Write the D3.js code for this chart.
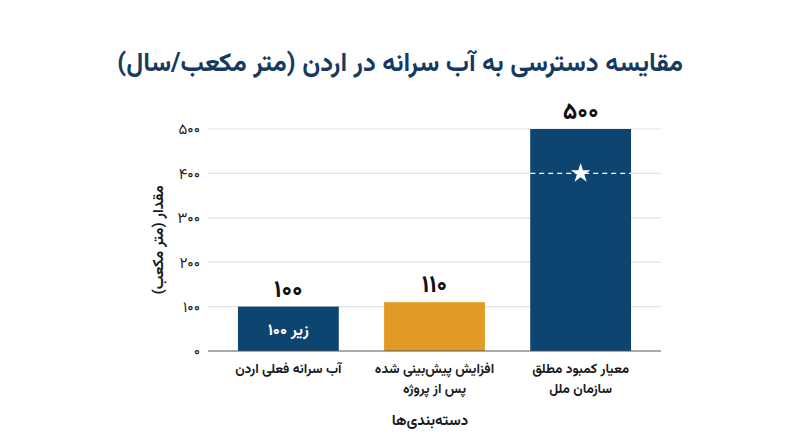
<!DOCTYPE html>
<html>
<head>
<meta charset="utf-8">
<script src="https://cdn.jsdelivr.net/npm/d3@7"></script>
<style>
  body { margin: 0; background: #fff; }
  text { font-family: "Vazirmatn", "Noto Sans Arabic", "DejaVu Sans", sans-serif; }
</style>
</head>
<body>
<div id="chart-area"></div>
<script>
// data
var categories = ['آب سرانه فعلی اردن', 'افزایش پیش‌بینی شده|پس از پروژه', 'معیار کمبود مطلق|سازمان ملل'];
var values = [100, 110, 500];
var valueLabels = ['۱۰۰', '۱۱۰', '۵۰۰'];
var barColors = ['#0e4470', '#e19a24', '#0e4470'];
var yTicks = [0, 100, 200, 300, 400, 500];
var yTickLabels = ['۰', '۱۰۰', '۲۰۰', '۳۰۰', '۴۰۰', '۵۰۰'];
var benchmark = 400;

var margin = { left: 208, right: 139, top: 129, bottom: 96 };
var width = 800 - margin.left - margin.right;
var height = 447 - margin.top - margin.bottom;

var svg = d3.select('#chart-area')
  .append('svg')
    .attr('width', 800)
    .attr('height', 447);

var area = svg.append('g')
  .attr('transform', 'translate(' + margin.left + ', ' + margin.top + ')');

// X Scale
var x = d3.scaleBand()
  .domain(categories)
  .range([0, width])
  .paddingInner(0.31)
  .paddingOuter(0.205);

// Y Scale
var y = d3.scaleLinear()
  .domain([0, 500])
  .range([height, 0]);

// title
svg.append('text')
  .attr('x', 400)
  .attr('y', 71)
  .attr('text-anchor', 'middle')
  .attr('font-size', '25.8px')
  .attr('font-weight', 'bold')
  .attr('fill', '#163a5f')
  .attr('direction', 'rtl')
  .text('مقایسه دسترسی به آب سرانه در اردن (متر مکعب/سال)');

// gridlines
area.append('g')
  .selectAll('line')
  .data(yTicks.filter((d) => d > 0))
  .enter().append('line')
    .attr('x1', 0)
    .attr('x2', width)
    .attr('y1', (d) => y(d))
    .attr('y2', (d) => y(d))
    .attr('stroke', '#e3e3e3')
    .attr('stroke-width', 1.2);

// Y Axis
var yAxisCall = d3.axisLeft(y)
  .tickValues(yTicks)
  .tickSize(0)
  .tickPadding(8)
  .tickFormat((d, i) => yTickLabels[i]);
var yAxisGroup = area.append('g').call(yAxisCall);
yAxisGroup.select('.domain').remove();
yAxisGroup.selectAll('text')
  .attr('font-size', '15px')
  .attr('fill', '#222');

// bars
area.selectAll('rect.bar')
  .data(values)
  .enter().append('rect')
    .attr('class', 'bar')
    .attr('x', (d, i) => x(categories[i]))
    .attr('y', (d) => y(d))
    .attr('width', x.bandwidth())
    .attr('height', (d) => height - y(d))
    .attr('fill', (d, i) => barColors[i]);

// value labels
area.selectAll('text.val')
  .data(values)
  .enter().append('text')
    .attr('class', 'val')
    .attr('x', (d, i) => x(categories[i]) + x.bandwidth() / 2)
    .attr('y', (d) => y(d) - 10)
    .attr('text-anchor', 'middle')
    .attr('font-size', '24px')
    .attr('font-weight', 'bold')
    .attr('fill', '#111')
    .text((d, i) => valueLabels[i]);

// label inside first bar
area.append('text')
  .attr('x', x(categories[0]) + x.bandwidth() / 2)
  .attr('y', y(values[0] / 2) + 6)
  .attr('text-anchor', 'middle')
  .attr('direction', 'rtl')
  .attr('font-size', '16px')
  .attr('font-weight', 'bold')
  .attr('fill', '#fff')
  .text('زیر ۱۰۰');

// benchmark dashed line and star on third bar
var bx = x(categories[2]);
area.append('line')
  .attr('x1', bx)
  .attr('x2', bx + x.bandwidth())
  .attr('y1', y(benchmark))
  .attr('y2', y(benchmark))
  .attr('stroke', '#fff')
  .attr('stroke-width', 1.3)
  .attr('stroke-dasharray', '5,4');

area.append('path')
  .attr('d', d3.symbol().type(d3.symbolStar).size(120)())
  .attr('transform', 'translate(' + (bx + x.bandwidth() / 2) + ',' + y(benchmark) + ')')
  .attr('fill', '#fff');

// X Axis
var xAxisGroup = area.append('g')
  .attr('transform', 'translate(0, ' + height + ')');
xAxisGroup.append('line')
  .attr('x1', 0)
  .attr('x2', width)
  .attr('stroke', '#555')
  .attr('stroke-width', 1.2);

// category labels, one text per line
categories.forEach((d) => {
  d.split('|').forEach((line, i) => {
    xAxisGroup.append('text')
      .attr('class', 'cat')
      .attr('x', x(d) + x.bandwidth() / 2)
      .attr('y', 22 + i * 20)
      .attr('text-anchor', 'middle')
      .attr('direction', 'rtl')
      .attr('font-size', '13.5px')
      .attr('font-weight', 'bold')
      .attr('fill', '#1a1a1a')
      .text(line);
  });
});

// X label
svg.append('text')
  .attr('x', 430)
  .attr('y', 425)
  .attr('text-anchor', 'middle')
  .attr('direction', 'rtl')
  .attr('font-size', '15px')
  .attr('font-weight', 'bold')
  .attr('fill', '#1a1a1a')
  .text('دسته‌بندی‌ها');

// Y label
svg.append('text')
  .attr('x', -(margin.top + height / 2))
  .attr('y', 163)
  .attr('text-anchor', 'middle')
  .attr('direction', 'rtl')
  .attr('transform', 'rotate(-90)')
  .attr('font-size', '15px')
  .attr('font-weight', 'bold')
  .attr('fill', '#1a1a1a')
  .text('مقدار (متر مکعب)');
</script>
</body>
</html>
